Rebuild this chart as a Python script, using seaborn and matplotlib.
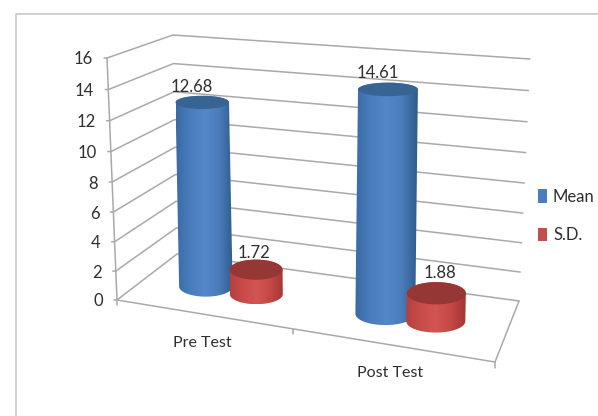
import numpy as np
import pandas as pd
import matplotlib
matplotlib.use("Agg")
import matplotlib.pyplot as plt
from matplotlib.colors import LinearSegmentedColormap
from matplotlib.patches import Ellipse, PathPatch, Rectangle
from matplotlib.path import Path
import seaborn as sns

categories = ["Pre Test", "Post Test"]
series_names = ["Mean", "S.D."]
mean_values = [12.68, 14.61]
sd_values = [1.72, 1.88]
value_ticks = [0, 2, 4, 6, 8, 10, 12, 14, 16]

sns.set_theme(style="white")
plt.rcParams["font.family"] = ["Lato", "DejaVu Sans"]

TEXT = "#2f2f2f"
GRID = "#a9a9a9"
VMAX = 16.0

# Corners of the 3D box on the canvas: (floor, ceiling) for each vertical edge.
FL = (np.array([117.0, 300.0]), np.array([107.0, 58.0]))
FR = (np.array([495.0, 362.0]), np.array([500.0, 95.0]))
BL = (np.array([177.0, 254.0]), np.array([173.0, 35.0]))
BR = (np.array([519.0, 301.0]), np.array([530.0, 59.0]))


def project(u, d, v):
    """Map category position u, depth d and a data value v to the canvas."""
    t = v / VMAX
    t = t - 0.05 * t * (1 - t)
    pts = [(1 - t) * c[0] + t * c[1] for c in (FL, FR, BL, BR)]
    return ((1 - u) * (1 - d) * pts[0] + u * (1 - d) * pts[1]
            + (1 - u) * d * pts[2] + u * d * pts[3])


fig = plt.figure(figsize=(5.98, 4.16), dpi=100)
ax = fig.add_axes([0, 0, 1, 1])
ax.set_xlim(0, 598)
ax.set_ylim(416, 0)
ax.axis("off")

# Page frame around the chart
ax.plot([16, 16, 598], [416, 13.5, 13.5], color="#c4c4c4", lw=1.1)

# Wall gridlines and box edges, assembled as one long-form table
rows = []


def add_line(name, *points):
    for order, p in enumerate(points):
        rows.append({"line": name, "order": order, "x": p[0], "y": p[1]})


for v in value_ticks:
    add_line(f"grid{v}", project(0, 0, v) + np.array([-3, 0]), project(0, 0, v),
             project(0, 1, v), project(1, 1, v))
add_line("edge", project(0, 0, 0), project(0, 0, VMAX))
add_line("front", project(0, 0, 0) + np.array([0, 5]), project(0, 0, 0),
         project(1, 0, 0), project(1, 0, 0) + np.array([0, 6]))
add_line("side", project(1, 0, 0), project(1, 1, 0))
add_line("midtick", project(0.465, 0, 0), project(0.465, 0, 0) + np.array([0, 5]))

sns.lineplot(data=pd.DataFrame(rows), x="x", y="y", units="line", estimator=None,
             sort=False, color=GRID, lw=1.1, ax=ax, legend=False, zorder=1)

for v in value_ticks:
    p = project(0, 0, v)
    ax.text(p[0] - 14, p[1] + 1.5, str(v), ha="right", va="center", fontsize=12, color=TEXT)

blue_cmap = LinearSegmentedColormap.from_list(
    "blue_cyl", ["#3a6ba6", "#4a7dbd", "#5487c8", "#4a7cba", "#2f5a8c"])
red_cmap = LinearSegmentedColormap.from_list(
    "red_cyl", ["#b5403d", "#c94c4a", "#d35553", "#c44846", "#a33634"])
TOP_COLOURS = {"Mean": "#386494", "S.D.": "#953735"}
CMAPS = {"Mean": blue_cmap, "S.D.": red_cmap}

GROUP_CENTRES = [0.235, 0.733]
BAR_OFFSET = 0.070
DEPTH = 0.49
LABEL_SHIFT = {("Mean", 0): (-10, -15), ("Mean", 1): (-10, -16),
               ("S.D.", 0): (-2, -17), ("S.D.", 1): (4, -20)}


def draw_cylinder(u, value, series, group):
    base = project(u, DEPTH, 0)
    top = project(u, DEPTH, value)
    rx = 24.5 + 6 * u + 0.1 * value
    ry_top = rx * (0.40 - 0.19 * value / VMAX)
    ry_base = rx * 0.38

    ang = np.linspace(np.pi, 0, 40)
    lower = np.column_stack([base[0] + rx * np.cos(ang), base[1] + ry_base * np.sin(ang)])
    upper = np.column_stack([top[0] + rx * np.cos(ang[::-1]), top[1] - ry_top * np.sin(ang[::-1])])
    outline = np.vstack([lower, upper, lower[:1]])
    body = PathPatch(Path(outline), transform=ax.transData, facecolor="none", edgecolor="none")
    ax.add_patch(body)

    xmin, xmax = outline[:, 0].min(), outline[:, 0].max()
    ymin, ymax = outline[:, 1].min(), outline[:, 1].max()
    shade = np.linspace(0, 1, 128).reshape(1, -1)
    img = ax.imshow(shade, cmap=CMAPS[series], extent=(xmin, xmax, ymax, ymin),
                    aspect="auto", interpolation="bilinear", zorder=3)
    img.set_clip_path(body)
    ax.add_patch(Ellipse(top, 2 * rx, 2 * ry_top, facecolor=TOP_COLOURS[series],
                         edgecolor="none", zorder=3))
    dx, dy = LABEL_SHIFT[(series, group)]
    ax.text(top[0] + dx, top[1] + dy, f"{value:.2f}", ha="center", va="center",
            fontsize=12, color=TEXT, zorder=4)


for group, centre in enumerate(GROUP_CENTRES):
    draw_cylinder(centre - BAR_OFFSET, mean_values[group], "Mean", group)
    draw_cylinder(centre + BAR_OFFSET, sd_values[group], "S.D.", group)
    p = project(centre, 0, 0)
    ax.text(p[0] - 4, p[1] + 28, categories[group], ha="center", va="center",
            fontsize=11.5, color=TEXT)

ax.set_xlim(0, 598)
ax.set_ylim(416, 0)
ax.set_xlabel("")
ax.set_ylabel("")

handles = [Rectangle((0, 0), 1, 1, facecolor=c, edgecolor="none")
           for c in ("#4a7ebb", "#c0504d")]
ax.legend(handles, series_names, loc="center left", bbox_to_anchor=(538, 216),
          bbox_transform=ax.transData, frameon=False, fontsize=12, labelcolor=TEXT,
          handlelength=0.55, handleheight=0.9, handletextpad=0.35, labelspacing=1.35,
          borderpad=0, borderaxespad=0)

fig.savefig("out.png", dpi=100, facecolor="white")
